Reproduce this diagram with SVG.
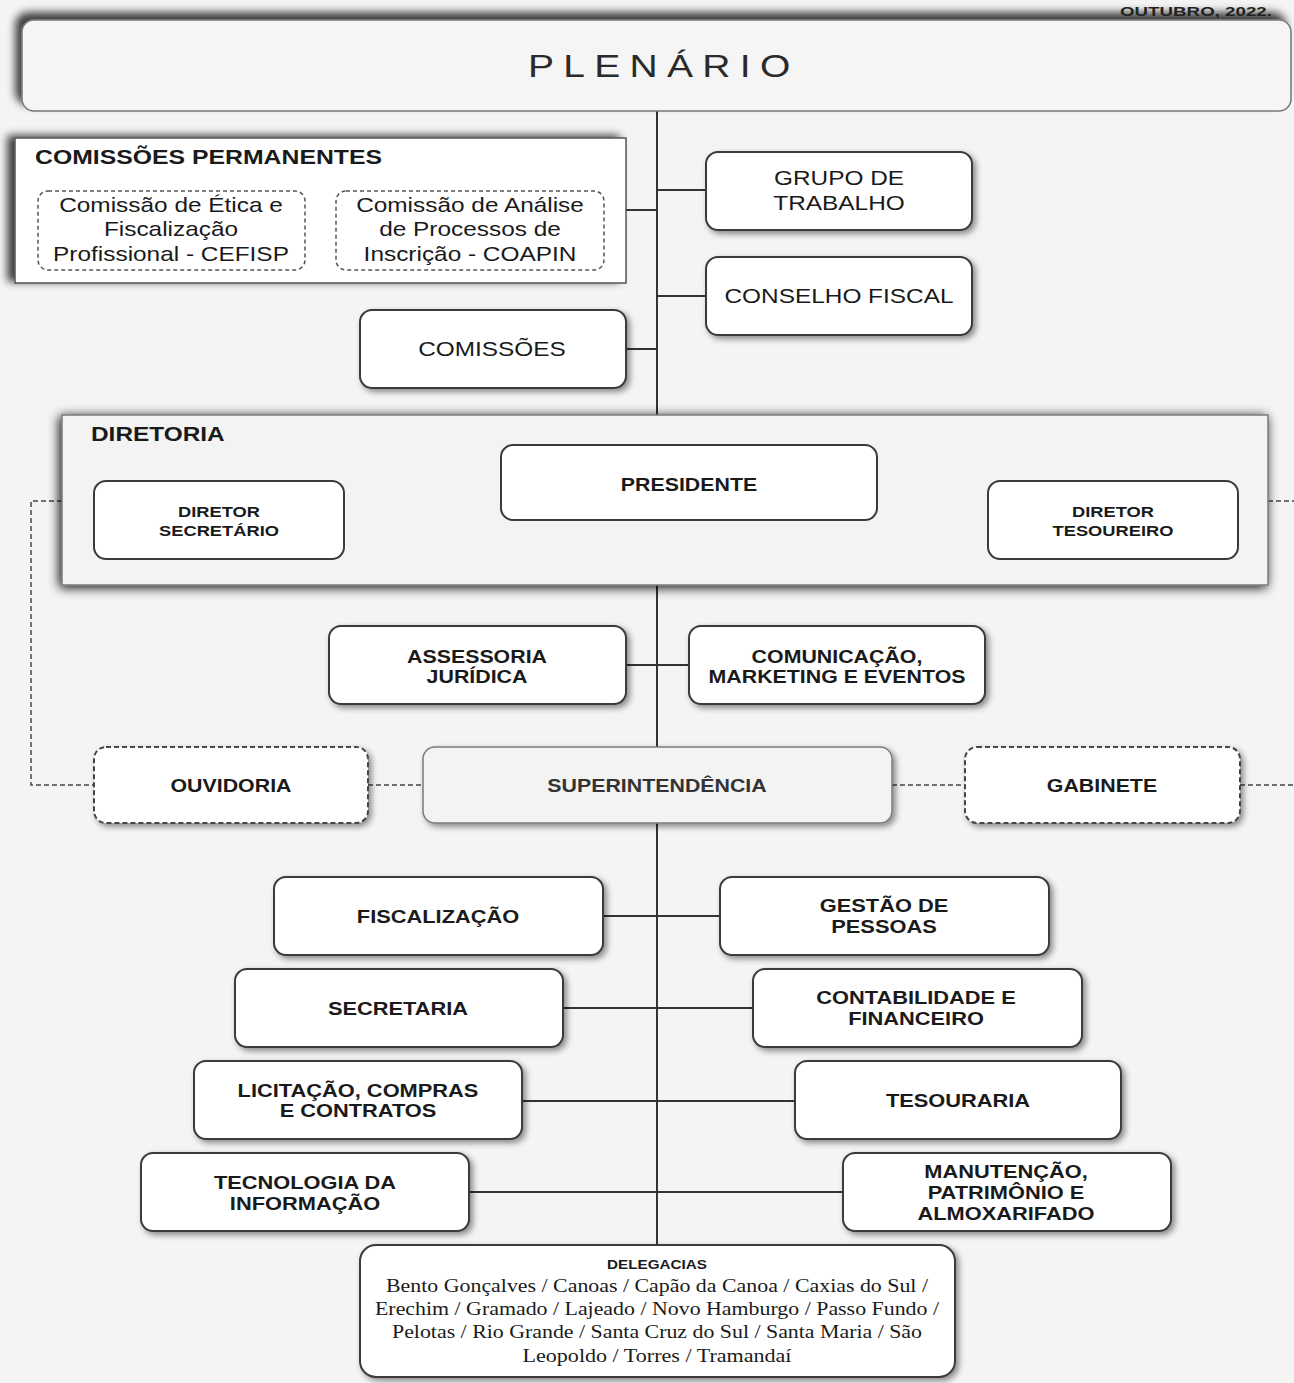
<svg xmlns="http://www.w3.org/2000/svg" width="1294" height="1383" viewBox="0 0 1294 1383">
<defs>
<filter id="sh" x="-10%" y="-20%" width="130%" height="150%">
<feGaussianBlur in="SourceAlpha" stdDeviation="3"/>
<feOffset dx="3" dy="3" result="o"/>
<feComponentTransfer><feFuncA type="linear" slope="0.45"/></feComponentTransfer>
<feMerge><feMergeNode/><feMergeNode in="SourceGraphic"/></feMerge>
</filter>
<filter id="shTL" x="-5%" y="-40%" width="110%" height="160%">
<feGaussianBlur in="SourceAlpha" stdDeviation="4"/>
<feOffset dx="-6" dy="-7"/>
<feComponentTransfer><feFuncA type="linear" slope="0.75"/></feComponentTransfer>
<feMerge><feMergeNode/><feMergeNode in="SourceGraphic"/></feMerge>
</filter>
<filter id="shL" x="-5%" y="-20%" width="110%" height="140%">
<feGaussianBlur in="SourceAlpha" stdDeviation="4"/>
<feOffset dx="-7" dy="-2"/>
<feComponentTransfer><feFuncA type="linear" slope="0.75"/></feComponentTransfer>
<feMerge><feMergeNode/><feMergeNode in="SourceGraphic"/></feMerge>
</filter>
<filter id="shD" x="-5%" y="-20%" width="110%" height="140%">
<feGaussianBlur in="SourceAlpha" stdDeviation="6"/>
<feOffset dx="-2" dy="2"/>
<feComponentTransfer><feFuncA type="linear" slope="0.95"/></feComponentTransfer>
<feMerge><feMergeNode/><feMergeNode in="SourceGraphic"/></feMerge>
</filter>
</defs>
<style>
.bg{fill:#f4f4f4}
.box{fill:#ffffff;stroke:#3a3a3a;stroke-width:2}
.dbox{fill:#ffffff;stroke:#444;stroke-width:2;stroke-dasharray:5 3}
.gbox{fill:#f3f3f3;stroke:#7a7a7a;stroke-width:1.5}
.sbox{fill:#ffffff;stroke:#555;stroke-width:1.5}
.idash{fill:none;stroke:#555;stroke-width:1.5;stroke-dasharray:4 3}
.ln{stroke:#333;stroke-width:2;fill:none}
.dl{stroke:#444;stroke-width:1.5;fill:none;stroke-dasharray:5 3}
text{font-family:"Liberation Sans",Arial,Helvetica,sans-serif;fill:#1a1a1a}
.b{font-weight:bold;text-anchor:middle}
.r{text-anchor:middle}
.t{font-family:"Liberation Serif","Times New Roman",serif;text-anchor:middle;font-size:18.5px}
</style>
<rect class="bg" x="0" y="0" width="1294" height="1383"/>

<g id="connectors">
<line class="ln" x1="657" y1="111" x2="657" y2="1245"/>
<line class="ln" x1="626" y1="210" x2="657" y2="210"/>
<line class="ln" x1="657" y1="190" x2="706" y2="190"/>
<line class="ln" x1="657" y1="296" x2="706" y2="296"/>
<line class="ln" x1="626" y1="349" x2="657" y2="349"/>
<line class="ln" x1="626" y1="665" x2="689" y2="665"/>
<line class="ln" x1="603" y1="916" x2="720" y2="916"/>
<line class="ln" x1="563" y1="1008" x2="753" y2="1008"/>
<line class="ln" x1="522" y1="1101" x2="795" y2="1101"/>
<line class="ln" x1="469" y1="1192" x2="843" y2="1192"/>
<polyline class="dl" points="62,501 31,501 31,785 94,785"/>
<line class="dl" x1="1268" y1="501" x2="1294" y2="501"/>
<line class="dl" x1="368" y1="785" x2="423" y2="785"/>
<line class="dl" x1="892" y1="785" x2="965" y2="785"/>
<line class="dl" x1="1240" y1="785" x2="1294" y2="785"/>
</g>

<g id="plenario">
<rect x="22" y="20" width="1269" height="91" rx="12" fill="#f5f5f5" stroke="#777" stroke-width="1.5" filter="url(#shTL)"/>
<text transform="translate(528,77) scale(1.22,1)" style="font-size:32px;letter-spacing:7.6px;fill:#2a2a2a">PLENÁRIO</text>
</g>

<text x="1272" y="16" style="font-size:13.5px;font-weight:bold;text-anchor:end;fill:#222" textLength="152" lengthAdjust="spacingAndGlyphs">OUTUBRO, 2022.</text>

<g id="comissoes-permanentes">
<rect class="sbox" x="15" y="138" width="611" height="145" filter="url(#shL)"/>
<text transform="translate(35,164) scale(1.24,1)" style="font-size:20px;font-weight:bold">COMISSÕES PERMANENTES</text>
<rect class="idash" x="38" y="191" width="267" height="79" rx="10"/>
<text class="r" transform="translate(171,212) scale(1.22,1)" style="font-size:20px">Comissão de Ética e<tspan x="0" dy="24.5">Fiscalização</tspan><tspan x="0" dy="24.5">Profissional - CEFISP</tspan></text>
<rect class="idash" x="336" y="191" width="268" height="79" rx="10"/>
<text class="r" transform="translate(470,212) scale(1.22,1)" style="font-size:20px">Comissão de Análise<tspan x="0" dy="24.5">de Processos de</tspan><tspan x="0" dy="24.5">Inscrição - COAPIN</tspan></text>
</g>

<g id="grupo-de-trabalho">
<rect class="box" x="706" y="152" width="266" height="78" rx="12" filter="url(#sh)"/>
<text class="r" transform="translate(839,185) scale(1.22,1)" style="font-size:20px">GRUPO DE<tspan x="0" dy="25">TRABALHO</tspan></text>
</g>

<g id="conselho-fiscal">
<rect class="box" x="706" y="257" width="266" height="78" rx="12" filter="url(#sh)"/>
<text class="r" transform="translate(839,303) scale(1.22,1)" style="font-size:20px">CONSELHO FISCAL</text>
</g>

<g id="comissoes">
<rect class="box" x="360" y="310" width="266" height="78" rx="12" filter="url(#sh)"/>
<text class="r" transform="translate(492,356) scale(1.22,1)" style="font-size:20px">COMISSÕES</text>
</g>

<g id="diretoria">
<rect class="gbox" x="62" y="415" width="1206" height="170" filter="url(#shD)"/>
<text transform="translate(91,441) scale(1.22,1)" style="font-size:20px;font-weight:bold">DIRETORIA</text>
</g>

<g id="presidente">
<rect class="box" x="501" y="445" width="376" height="75" rx="12"/>
<text class="b" transform="translate(689,491) scale(1.22,1)" style="font-size:17.5px">PRESIDENTE</text>
</g>

<g id="diretor-secretario">
<rect class="box" x="94" y="481" width="250" height="78" rx="12"/>
<text class="b" transform="translate(219,517) scale(1.22,1)" style="font-size:15px">DIRETOR<tspan x="0" dy="19">SECRETÁRIO</tspan></text>
</g>

<g id="diretor-tesoureiro">
<rect class="box" x="988" y="481" width="250" height="78" rx="12"/>
<text class="b" transform="translate(1113,517) scale(1.22,1)" style="font-size:15px">DIRETOR<tspan x="0" dy="19">TESOUREIRO</tspan></text>
</g>

<g id="assessoria-juridica">
<rect class="box" x="329" y="626" width="297" height="78" rx="12" filter="url(#sh)"/>
<text class="b" transform="translate(477,663) scale(1.22,1)" style="font-size:17.5px">ASSESSORIA<tspan x="0" dy="20.5">JURÍDICA</tspan></text>
</g>

<g id="comunicacao">
<rect class="box" x="689" y="626" width="296" height="78" rx="12" filter="url(#sh)"/>
<text class="b" transform="translate(837,663) scale(1.22,1)" style="font-size:17.5px">COMUNICAÇÃO,<tspan x="0" dy="20.5">MARKETING E EVENTOS</tspan></text>
</g>

<g id="ouvidoria">
<rect class="dbox" x="94" y="747" width="274" height="76" rx="12" filter="url(#sh)"/>
<text class="b" transform="translate(231,792) scale(1.22,1)" style="font-size:17.5px">OUVIDORIA</text>
</g>

<g id="superintendencia">
<rect class="gbox" x="423" y="747" width="469" height="76" rx="12" filter="url(#sh)"/>
<text class="b" transform="translate(657,792) scale(1.22,1)" style="font-size:17.5px;fill:#333">SUPERINTENDÊNCIA</text>
</g>

<g id="gabinete">
<rect class="dbox" x="965" y="747" width="275" height="76" rx="12" filter="url(#sh)"/>
<text class="b" transform="translate(1102,792) scale(1.22,1)" style="font-size:17.5px">GABINETE</text>
</g>

<g id="fiscalizacao">
<rect class="box" x="274" y="877" width="329" height="78" rx="12" filter="url(#sh)"/>
<text class="b" transform="translate(438,923) scale(1.18,1)" style="font-size:18.5px">FISCALIZAÇÃO</text>
</g>

<g id="gestao-de-pessoas">
<rect class="box" x="720" y="877" width="329" height="78" rx="12" filter="url(#sh)"/>
<text class="b" transform="translate(884,912) scale(1.18,1)" style="font-size:18.5px">GESTÃO DE<tspan x="0" dy="21">PESSOAS</tspan></text>
</g>

<g id="secretaria">
<rect class="box" x="235" y="969" width="328" height="78" rx="12" filter="url(#sh)"/>
<text class="b" transform="translate(398,1015) scale(1.18,1)" style="font-size:18.5px">SECRETARIA</text>
</g>

<g id="contabilidade">
<rect class="box" x="753" y="969" width="329" height="78" rx="12" filter="url(#sh)"/>
<text class="b" transform="translate(916,1004) scale(1.18,1)" style="font-size:18.5px">CONTABILIDADE E<tspan x="0" dy="21">FINANCEIRO</tspan></text>
</g>

<g id="licitacao">
<rect class="box" x="194" y="1061" width="328" height="78" rx="12" filter="url(#sh)"/>
<text class="b" transform="translate(358,1097) scale(1.18,1)" style="font-size:18.5px">LICITAÇÃO, COMPRAS<tspan x="0" dy="20.5">E CONTRATOS</tspan></text>
</g>

<g id="tesouraria">
<rect class="box" x="795" y="1061" width="326" height="78" rx="12" filter="url(#sh)"/>
<text class="b" transform="translate(958,1107) scale(1.18,1)" style="font-size:18.5px">TESOURARIA</text>
</g>

<g id="tecnologia">
<rect class="box" x="141" y="1153" width="328" height="78" rx="12" filter="url(#sh)"/>
<text class="b" transform="translate(305,1189) scale(1.18,1)" style="font-size:18.5px">TECNOLOGIA DA<tspan x="0" dy="21">INFORMAÇÃO</tspan></text>
</g>

<g id="manutencao">
<rect class="box" x="843" y="1153" width="328" height="78" rx="12" filter="url(#sh)"/>
<text class="b" transform="translate(1006,1178) scale(1.18,1)" style="font-size:18.5px">MANUTENÇÃO,<tspan x="0" dy="21">PATRIMÔNIO E</tspan><tspan x="0" dy="21">ALMOXARIFADO</tspan></text>
</g>

<g id="delegacias">
<rect class="box" x="360" y="1245" width="595" height="132" rx="16" filter="url(#sh)"/>
<text class="b" transform="translate(657,1269) scale(1.22,1)" style="font-size:12.5px">DELEGACIAS</text>
<text class="t" x="657" y="1292" textLength="542" lengthAdjust="spacingAndGlyphs">Bento Gonçalves / Canoas / Capão da Canoa / Caxias do Sul /</text>
<text class="t" x="657" y="1315" textLength="564" lengthAdjust="spacingAndGlyphs">Erechim / Gramado / Lajeado / Novo Hamburgo / Passo Fundo /</text>
<text class="t" x="657" y="1338" textLength="530" lengthAdjust="spacingAndGlyphs">Pelotas / Rio Grande / Santa Cruz do Sul / Santa Maria / São</text>
<text class="t" x="657" y="1362" textLength="269" lengthAdjust="spacingAndGlyphs">Leopoldo / Torres / Tramandaí</text>
</g>
</svg>
